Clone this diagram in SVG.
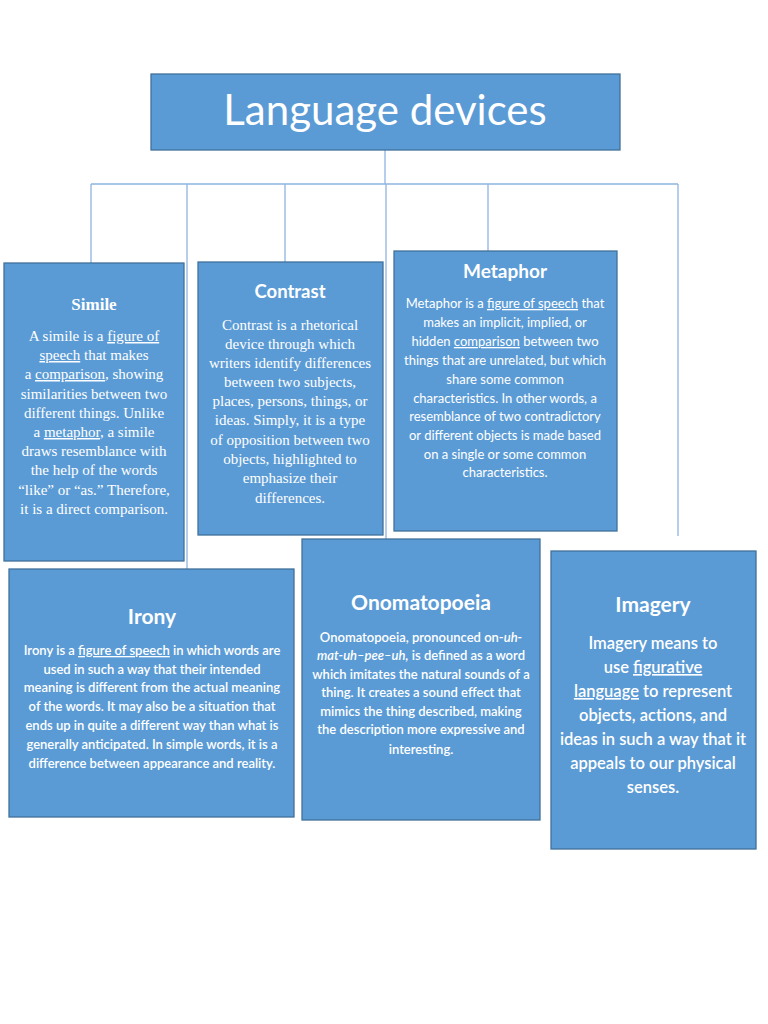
<svg xmlns="http://www.w3.org/2000/svg" width="768" height="1024" viewBox="0 0 768 1024">
<style>
.box{fill:#5b9bd5;stroke:#41719c;stroke-width:1.3}
.con line{stroke:#8fb4e0;stroke-width:1.3}
text{fill:#ffffff;text-anchor:middle}
.serif{font-family:"Liberation Serif","Times New Roman",serif;font-size:15px;fill:#f4f4f4}
.serifT{font-family:"Liberation Serif","Times New Roman",serif;font-size:17px;font-weight:bold}
.sans{font-family:Lato,"Open Sans",sans-serif}
.u{text-decoration:underline}
</style>
<rect width="768" height="1024" fill="#ffffff"/>
<g class="con" id="connectors">
<line x1="385" y1="150" x2="385" y2="184"/>
<line x1="91" y1="184" x2="678" y2="184"/>
<line x1="91" y1="184" x2="91" y2="263"/>
<line x1="187" y1="184" x2="187" y2="569"/>
<line x1="285" y1="184" x2="285" y2="262"/>
<line x1="386" y1="184" x2="386" y2="539"/>
<line x1="488" y1="184" x2="488" y2="251"/>
<line x1="678" y1="184" x2="678" y2="536"/>
</g>
<g id="title">
<rect class="box" x="151" y="74" width="469" height="76"/>
<text class="sans" x="385" y="125" font-size="42">Language devices</text>
</g>
<g id="simile">
<rect class="box" x="4" y="263" width="180" height="298"/>
<text class="serifT" x="94" y="310">Simile</text>
<g class="serif">
<text x="94" y="341">A simile is a <tspan class="u">figure of</tspan></text>
<text x="94" y="360"><tspan class="u">speech</tspan> that makes</text>
<text x="94" y="379">a <tspan class="u">comparison</tspan>, showing</text>
<text x="94" y="399">similarities between two</text>
<text x="94" y="418">different things. Unlike</text>
<text x="94" y="437">a <tspan class="u">metaphor</tspan>, a simile</text>
<text x="94" y="456">draws resemblance with</text>
<text x="94" y="475">the help of the words</text>
<text x="94" y="495">“like” or “as.” Therefore,</text>
<text x="94" y="514">it is a direct comparison.</text>
</g>
</g>
<g id="contrast">
<rect class="box" x="198" y="262" width="185" height="273"/>
<text class="sans" x="290" y="298" font-size="18.5" font-weight="bold">Contrast</text>
<g class="serif">
<text x="290" y="330">Contrast is a rhetorical</text>
<text x="290" y="349">device through which</text>
<text x="290" y="368">writers identify differences</text>
<text x="290" y="387">between two subjects,</text>
<text x="290" y="406">places, persons, things, or</text>
<text x="290" y="425">ideas. Simply, it is a type</text>
<text x="290" y="445">of opposition between two</text>
<text x="290" y="464">objects, highlighted to</text>
<text x="290" y="483">emphasize their</text>
<text x="290" y="503">differences.</text>
</g>
</g>
<g id="metaphor">
<rect class="box" x="394" y="251" width="223" height="280"/>
<text class="sans" x="505" y="278" font-size="19" font-weight="bold">Metaphor</text>
<g class="sans" font-size="13">
<text x="505" y="308">Metaphor is a <tspan class="u">figure of speech</tspan> that</text>
<text x="505" y="327">makes an implicit, implied, or</text>
<text x="505" y="346">hidden <tspan class="u">comparison</tspan> between two</text>
<text x="505" y="365">things that are unrelated, but which</text>
<text x="505" y="384">share some common</text>
<text x="505" y="403">characteristics. In other words, a</text>
<text x="505" y="421">resemblance of two contradictory</text>
<text x="505" y="440">or different objects is made based</text>
<text x="505" y="459">on a single or some common</text>
<text x="505" y="477">characteristics.</text>
</g>
</g>
<g id="irony">
<rect class="box" x="9" y="569" width="285" height="248"/>
<text class="sans" x="152" y="624" font-size="21" font-weight="bold">Irony</text>
<g class="sans" font-size="13" font-weight="600">
<text x="152" y="655">Irony is a <tspan class="u">figure of speech</tspan> in which words are</text>
<text x="152" y="674">used in such a way that their intended</text>
<text x="152" y="692">meaning is different from the actual meaning</text>
<text x="152" y="711">of the words. It may also be a situation that</text>
<text x="152" y="730">ends up in quite a different way than what is</text>
<text x="152" y="749">generally anticipated. In simple words, it is a</text>
<text x="152" y="768">difference between appearance and reality.</text>
</g>
</g>
<g id="onomatopoeia">
<rect class="box" x="302" y="539" width="238" height="281"/>
<text class="sans" x="421" y="610" font-size="21" font-weight="bold">Onomatopoeia</text>
<g class="sans" font-size="13" font-weight="600">
<text x="421" y="642">Onomatopoeia, pronounced on-<tspan font-style="italic">uh-</tspan></text>
<text x="421" y="660"><tspan font-style="italic">mat-uh–pee–uh,</tspan> is defined as a word</text>
<text x="421" y="679">which imitates the natural sounds of a</text>
<text x="421" y="697">thing. It creates a sound effect that</text>
<text x="421" y="716">mimics the thing described, making</text>
<text x="421" y="734">the description more expressive and</text>
<text x="421" y="754">interesting.</text>
</g>
</g>
<g id="imagery">
<rect class="box" x="551" y="551" width="205" height="298"/>
<text class="sans" x="653" y="612" font-size="21" font-weight="bold">Imagery</text>
<g class="sans" font-size="16.5" font-weight="600">
<text x="653" y="649">Imagery means to</text>
<text x="653" y="673">use <tspan class="u">figurative</tspan></text>
<text x="653" y="697"><tspan class="u">language</tspan> to represent</text>
<text x="653" y="721">objects, actions, and</text>
<text x="653" y="745">ideas in such a way that it</text>
<text x="653" y="769">appeals to our physical</text>
<text x="653" y="793">senses.</text>
</g>
</g>
</svg>
